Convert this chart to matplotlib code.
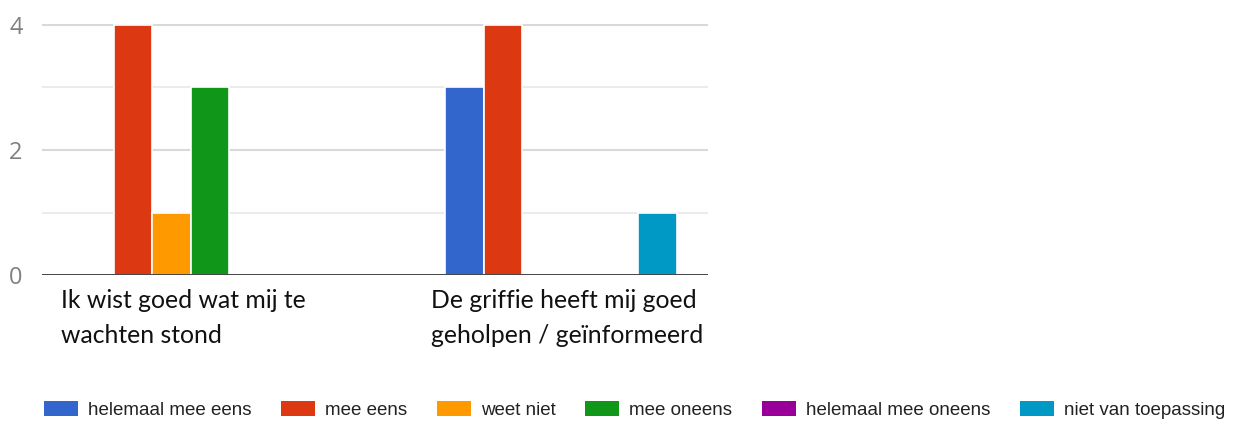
import matplotlib.pyplot as plt
import numpy as np
from matplotlib.patches import Patch
from matplotlib.transforms import offset_copy, blended_transform_factory

# categories / series
categories = ['Ik wist goed wat mij te\nwachten stond',
              'De griffie heeft mij goed\ngeholpen / geïnformeerd']
series = ['helemaal mee eens', 'mee eens', 'weet niet', 'mee oneens',
          'helemaal mee oneens', 'niet van toepassing']
colors = ['#3366cc', '#dc3912', '#ff9900', '#109618', '#990099', '#0099c6']
helemaal_mee_eens = [0, 3]
mee_eens = [4, 4]
weet_niet = [1, 0]
mee_oneens = [3, 0]
helemaal_mee_oneens = [0, 0]
niet_van_toepassing = [0, 1]
values = [helemaal_mee_eens, mee_eens, weet_niet, mee_oneens,
          helemaal_mee_oneens, niet_van_toepassing]
yticks = [0, 2, 4]

W, H = 1237, 428
fig = plt.figure(figsize=(W / 100, H / 100), dpi=100)
ax = fig.add_axes([42 / W, 153 / H, 666 / W, 251.25 / H])

x = np.arange(len(categories))
slot = 0.1043
for k, (name, vals) in enumerate(zip(series, values)):
    heights = np.array(vals, dtype=float)
    mask = heights > 0
    ax.bar(x[mask] + (k - 2.5) * slot, heights[mask], width=slot,
           color=colors[k], edgecolor='white', linewidth=1.2, zorder=2)

ax.set_xlim(-0.402, 1.398)
ax.set_ylim(0, 4.02)

# gridlines
for v in [1, 3]:
    ax.axhline(v, color='#ebebeb', lw=1.5, zorder=1)
for v in [2, 4]:
    ax.axhline(v, color='#d9d9d9', lw=1.5, zorder=1)
ax.axhline(0, color='#333333', lw=2, zorder=3)

for s in ax.spines.values():
    s.set_visible(False)
ax.set_xticks([])
ax.set_yticks(yticks)
ax.set_yticklabels([str(t) for t in yticks], fontfamily='Open Sans',
                   fontsize=17, color='#808080')
ax.tick_params(axis='y', length=0, pad=14)

# category labels, left aligned under each group
trans = blended_transform_factory(ax.transData, ax.transAxes)
for i, lab in enumerate(categories):
    t = offset_copy(trans, fig=fig, x=-130, y=-14, units='dots')
    ax.text(x[i], 0, lab, transform=t, ha='left', va='top',
            fontfamily='Lato', fontsize=17.8, color='#111111',
            linespacing=1.62)

handles = [Patch(facecolor=c) for c in colors]
fig.legend(handles, series, loc='center', bbox_to_anchor=(0.513, 0.042),
           ncol=6, frameon=False, handlelength=1.8, handleheight=0.85,
           handletextpad=0.53, columnspacing=1.6,
           prop={'family': 'Liberation Sans', 'size': 13.5},
           labelcolor='#222222')

fig.savefig('out.png', dpi=100)
